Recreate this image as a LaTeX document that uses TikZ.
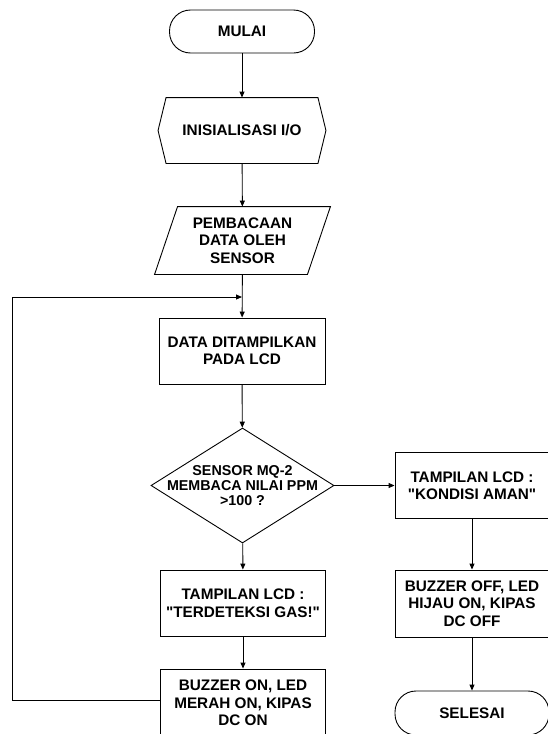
\documentclass[tikz,border=0pt]{standalone}
\usepackage{fontspec}
\setmainfont{Liberation Sans}[Ligatures=TeXOff]
\usetikzlibrary{shapes.geometric,arrows.meta}
\begin{document}
\begin{tikzpicture}[x=1pt,y=-1pt,
  line width=0.9pt,
  txt/.style={font=\bfseries\fontsize{15.3}{17.5}\selectfont, align=center, inner sep=0pt},
  boxnode/.style={txt, draw, rectangle, minimum width=#1, minimum height=66pt},
  termnode/.style={txt, draw, rectangle, rounded corners=21pt, minimum width=#1, minimum height=43pt},
  plainnode/.style={txt, minimum width=#1, minimum height=66pt},
  arr/.style={-{Triangle[length=6pt,width=5pt]}}]
\useasboundingbox (0,0) rectangle (547,734);

\node[termnode=145pt] (start) at (242,31.5) {MULAI};
\node[plainnode=167pt, minimum height=65pt] (init) at (242,130.5) {INISIALISASI I/O};
\draw ([xshift=8pt]init.north west) -- ([xshift=-8pt]init.north east) -- (init.east)
  -- ([xshift=-8pt]init.south east) -- ([xshift=8pt]init.south west) -- (init.west) -- cycle;
\node[plainnode=175pt, minimum height=67pt] (read) at (242.5,240.5) {PEMBACAAN\\DATA OLEH\\SENSOR};
\draw ([xshift=23pt]read.north west) -- (read.north east) -- ([xshift=-23pt]read.south east)
  -- (read.south west) -- cycle;
\node[boxnode=166pt] (data) at (242,351) {DATA DITAMPILKAN\\PADA LCD};
\node[draw, diamond, minimum width=183pt, minimum height=115pt, inner sep=0pt] (dec) at (242.5,485.5) {};
\node[txt, font=\bfseries\fontsize{14.3}{15}\selectfont] at (dec) {SENSOR MQ-2\\MEMBACA NILAI PPM\\>100 ?};
\node[boxnode=165pt] (gas) at (243,603) {TAMPILAN LCD :\\"TERDETEKSI GAS!"};
\node[boxnode=165pt, minimum height=68pt] (buz1) at (243,703) {BUZZER ON, LED\\MERAH ON, KIPAS\\DC ON};

\node[boxnode=154pt] (aman) at (472,485.5) {TAMPILAN LCD :\\"KONDISI AMAN"};
\node[boxnode=154pt, minimum height=67pt] (buz2) at (472,603.5) {BUZZER OFF, LED\\HIJAU ON, KIPAS\\DC OFF};
\node[termnode=154pt, minimum height=44pt] (fin) at (472,713) {SELESAI};

\draw[arr] (start) -- (init);
\draw[arr] (init) -- (read);
\draw[arr] (read) -- (data);
\draw[arr] (data) -- (dec);
\draw[arr] (dec) -- (gas);
\draw[arr] (gas) -- (buz1);
\draw[arr] (dec.east) -- (aman.west);
\draw[arr] (aman) -- (buz2);
\draw[arr] (buz2) -- (fin);

\coordinate (lp) at (12,297);
\coordinate (j) at (242,297);
\draw[arr] ([yshift=3pt]buz1.west) -| (lp) -- (j);
\end{tikzpicture}
\end{document}
